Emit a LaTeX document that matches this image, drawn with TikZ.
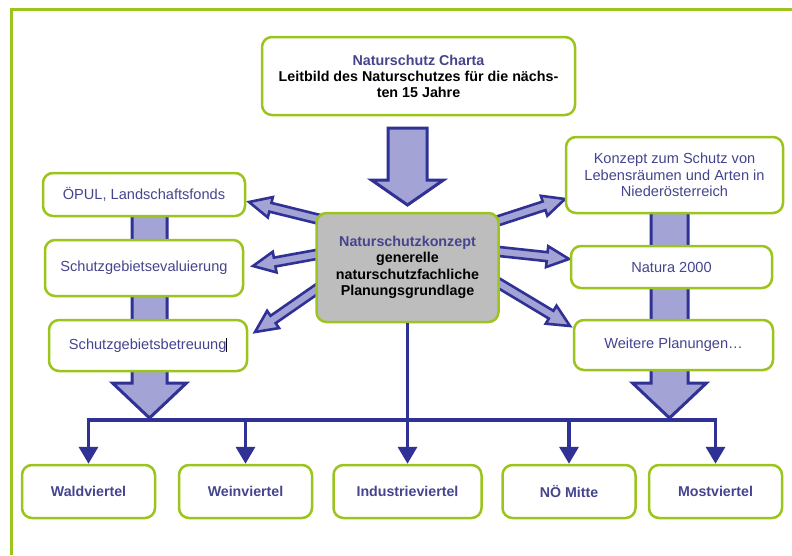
\documentclass[tikz,border=0pt]{standalone}
\usepackage{fontspec}
\setmainfont{Liberation Sans}
\usetikzlibrary{arrows.meta}
\usetikzlibrary{positioning}
\usetikzlibrary{calc}

\definecolor{lgreen}{HTML}{9BC41C}
\definecolor{dblue}{HTML}{2F3195}
\definecolor{lblue}{HTML}{A3A3D6}
\definecolor{tblue}{HTML}{45458F}
\definecolor{kgray}{HTML}{BDBDBD}

% hohler Pfeil: Start, Spitze, halbe Schaftbreite, halbe Kopfbreite, Kopflaenge
\newcommand{\fatarrow}[6][]{%
  \path ($(#3)!#6!(#2)$) coordinate (fa-h);
  \filldraw[fatarr,#1] ($(#2)!#4!90:(#3)$) -- ($(fa-h)!#4!90:(#3)$)
    -- ($(fa-h)!#5!90:(#3)$) -- (#3) -- ($(fa-h)!#5!-90:(#3)$)
    -- ($(fa-h)!#4!-90:(#3)$) -- ($(#2)!#4!-90:(#3)$) -- cycle;
}

\tikzset{
  box/.style={draw=lgreen, line width=2.5pt, rounded corners=10pt, fill=white,
    align=center, text=tblue, inner sep=2pt,
    font=\fontsize{14.6}{16.5}\selectfont},
  regionbox/.style={box, minimum width=133pt, minimum height=53pt,
    font=\fontsize{14.2}{16.5}\selectfont\bfseries},
  fatarr/.style={draw=dblue, fill=lblue, line width=2.6pt, line join=miter},
  bus/.style={draw=dblue, line width=3.5pt,
    -{Triangle[width=19pt,length=17pt]}},
}

\begin{document}
\begin{tikzpicture}[x=1pt, y=-1pt]
  \useasboundingbox (0,0) rectangle (792,555);

  % Rahmen
  \draw[lgreen, line width=3pt] (11.5,555) -- (11.5,9.5) -- (792,9.5);

  % grosse Pfeile
  \coordinate (t1) at (407.5,128);
  \coordinate (t2) at (407.5,205);
  \coordinate (l1) at (149.5,214);
  \coordinate (l2) at (149.5,418);
  \coordinate (r1) at (669.5,212);
  \coordinate (r2) at (669.5,418);
  \fatarrow[line width=3pt]{t1}{t2}{19.5pt}{36pt}{25pt}
  \fatarrow[line width=3pt]{l1}{l2}{17.5pt}{37pt}{35pt}
  \fatarrow[line width=3pt]{r1}{r2}{18.5pt}{37pt}{35pt}

  % kleine Pfeile vom Konzept
  \coordinate (a1s) at (330,222);
  \coordinate (a1e) at (249,202);
  \coordinate (a2s) at (330,252);
  \coordinate (a2e) at (253,266);
  \coordinate (a3s) at (330,280);
  \coordinate (a3e) at (255,332);
  \coordinate (a4s) at (485,225);
  \coordinate (a4e) at (565,199);
  \coordinate (a5s) at (485,250);
  \coordinate (a5e) at (569,259);
  \coordinate (a6s) at (485,275);
  \coordinate (a6e) at (570,326);
  \foreach \i in {1,...,6}{
    \fatarrow{a\i s}{a\i e}{4.5pt}{10.5pt}{22pt}
  }

  % Knoten
  \node[box, minimum width=313pt, minimum height=78pt,
    font=\fontsize{14.3}{16}\selectfont\bfseries, text=black]
    (charta) at (418.5,76)
    {\textcolor{tblue}{Naturschutz Charta}\\
     Leitbild des Naturschutzes für die nächs-\\ten 15 Jahre};
  \node[box, fill=kgray, minimum width=182pt, minimum height=109pt,
    font=\fontsize{14.3}{16.5}\selectfont\bfseries, text=black]
    (kz) at (407.5,267.5)
    {\textcolor{tblue}{Naturschutzkonzept}\\generelle\\
     naturschutzfachliche\\Planungsgrundlage};

  \node[box, minimum width=202pt, minimum height=43pt] (oepul) at (144,194.5)
    {ÖPUL, Landschaftsfonds};
  \node[box, minimum width=198pt, minimum height=56pt] (eval) at (144,268)
    {Schutzgebietsevaluierung};
  \node[box, minimum width=198pt, minimum height=51pt] (betr) at (148,345.5)
    {Schutzgebietsbetreuung\textcolor{black}{\rule[-2pt]{0.6pt}{14pt}}};

  \node[box, minimum width=217pt, minimum height=76pt] (ndoe) at (674.5,175)
    {Konzept zum Schutz von\\Lebensräumen und Arten in\\Niederösterreich};
  \node[box, minimum width=201pt, minimum height=42pt] (natura) at (671.5,267)
    {Natura 2000};
  \node[box, minimum width=199pt, minimum height=50pt] (weitere) at (673.5,345)
    {Weitere Planungen…};

  \node[regionbox] (wald) at (88.5,491.5) {Waldviertel};
  \node[regionbox] (wein) at (245.5,491.5) {Weinviertel};
  \node[regionbox, minimum width=148pt] (ind) at (407.5,491.5) {Industrieviertel};
  \node[regionbox] (noe) at (569,491.5) {NÖ Mitte};
  \node[regionbox] (most) at (715.5,491.5) {Mostviertel};

  % Verteilerlinie
  \coordinate (bus) at (407.5,420);
  \draw[bus] (kz.south) -- (ind.north);
  \draw[bus, -, line cap=rect] (wald.north |- bus) -- (most.north |- bus);
  \foreach \r in {wald,wein,noe,most}
    \draw[bus] (\r.north |- bus) -- (\r.north);
\end{tikzpicture}
\end{document}
